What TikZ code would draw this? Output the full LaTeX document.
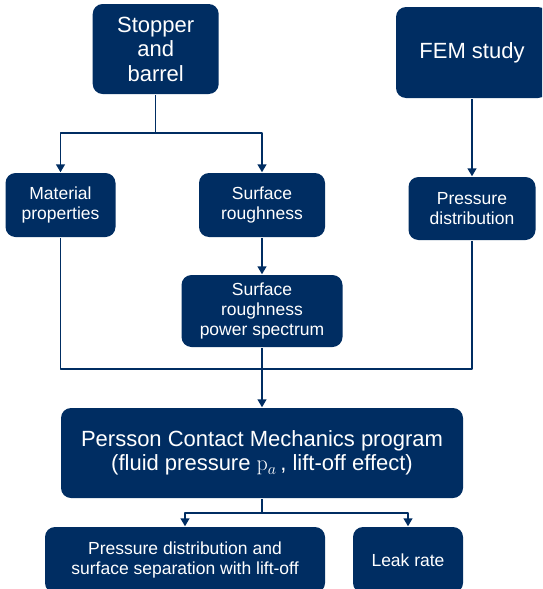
\RequirePackage{fix-cm}
\documentclass[tikz,border=0pt]{standalone}
\usepackage[no-math]{fontspec}
\setmainfont{Liberation Sans}
\usepackage{amsmath}
\usepackage{tikz}
\usetikzlibrary{positioning,arrows.meta}
\DeclareMathSizes{22}{22}{16}{12}

\definecolor{navy}{RGB}{0,45,98}
\tikzset{
  box/.style={draw=none,fill=navy,text=white,rounded corners=10pt,align=center,inner sep=0pt},
  bigtext/.style={font=\fontsize{22}{24.5}\selectfont},
  smalltext/.style={font=\fontsize{17.5}{20}\selectfont},
}

\begin{document}
\begin{tikzpicture}[x=1pt,y=-1pt,>={Triangle[width=9pt,length=8pt]},line join=bevel,navy,line width=1.5pt]
  \useasboundingbox (0,0) rectangle (542,589);
  \clip (0,0) rectangle (542,589);

  \node (node_stopper) at (155.7,49) [box,bigtext,minimum width=126pt,minimum height=90pt] {Stopper\\and\\barrel};
  \node (node_fem) at (472,52.5) [box,bigtext,minimum width=152pt,minimum height=91pt] {FEM study};
  \node (node_material) at (60.5,205) [box,smalltext,minimum width=110pt,minimum height=64pt] {Material\\properties};
  \node (node_roughness) at (262,205) [box,smalltext,minimum width=126pt,minimum height=64pt] {Surface\\roughness};
  \node (node_pressure) at (472,208.5) [box,smalltext,minimum width=127pt,minimum height=63pt] {Pressure\\distribution};
  \node (node_spectrum) at (262,311) [box,smalltext,minimum width=161pt,minimum height=72pt] {Surface\\roughness\\power spectrum};
  \node (node_persson) at (262,453) [box,bigtext,minimum width=402pt,minimum height=90pt] {Persson Contact Mechanics program\\(fluid pressure $\mathrm{p}_{a}$\,, lift-off effect)};
  \node (node_result) at (185,560) [box,smalltext,minimum width=280pt,minimum height=66pt] {Pressure distribution and\\surface separation with lift-off};
  \node (node_leak) at (408,560) [box,smalltext,minimum width=110pt,minimum height=66pt] {Leak rate};

  \coordinate (split_top) at (155.7,133);
  \coordinate (merge) at (262,369);
  \coordinate (split_bottom) at (262,513);

  \draw (node_stopper) -- (split_top);
  \draw [->] (split_top) -| (node_material);
  \draw [->] (split_top) -| (node_roughness);
  \draw [->] (node_fem) -- (node_pressure);
  \draw [->] (node_roughness) -- (node_spectrum);
  \draw (node_material) |- (merge);
  \draw (node_pressure) |- (merge);
  \draw [->] (node_spectrum) -- (node_persson);
  \draw (node_persson) -- (split_bottom);
  \draw [->] (split_bottom) -| (node_result);
  \draw [->] (split_bottom) -| (node_leak);
%
\end{tikzpicture}
\end{document}
